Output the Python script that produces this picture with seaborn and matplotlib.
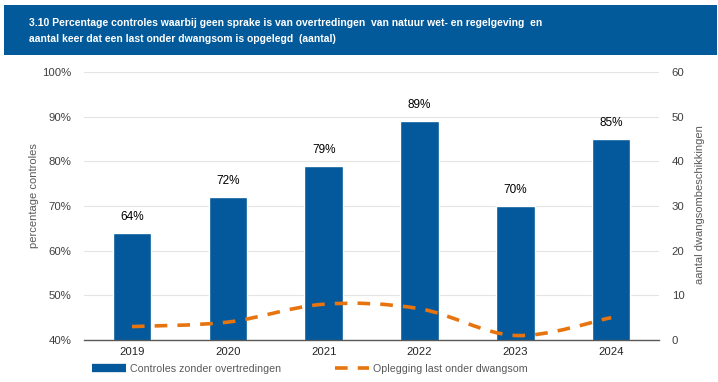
import matplotlib
matplotlib.use("Agg")
import matplotlib.pyplot as plt
import numpy as np
import pandas as pd
import seaborn as sns
from matplotlib.lines import Line2D
from matplotlib.patches import PathPatch, Rectangle
from matplotlib.path import Path

years = ["2019", "2020", "2021", "2022", "2023", "2024"]
pct_controles = [64, 72, 79, 89, 70, 85]
dwangsom = [3, 4, 8, 7, 1, 5]

BLUE = "#03599b"
ORANGE = "#e8740f"
GREY = "#595959"

sns.set_theme(style="white")
plt.rcParams["font.family"] = ["Liberation Sans", "DejaVu Sans"]

fig = plt.figure(figsize=(7.18, 3.82), dpi=100)
ax = fig.add_axes([0.117, 0.110, 0.801, 0.702])

df = pd.DataFrame({"jaar": years, "pct": pct_controles})
sns.barplot(data=df, x="jaar", y="pct", color=BLUE, width=0.4, saturation=1, ax=ax)
ax.set_ylim(40, 100)
ax.set_xlim(-0.5, len(years) - 0.5)
ax.set_yticks(range(40, 101, 10))
ax.set_yticklabels([f"{v}%" for v in range(40, 101, 10)])
ax.yaxis.grid(True, color="#e4e4e4", linewidth=0.8)
ax.set_axisbelow(True)
for s in ["top", "right", "left"]:
    ax.spines[s].set_visible(False)
ax.spines["bottom"].set_color(GREY)
ax.spines["bottom"].set_linewidth(1.0)
ax.tick_params(axis="both", length=0, labelsize=8.2, colors="#404040", pad=9)
ax.tick_params(axis="x", pad=5, colors="#262626")
ax.set_xlabel("")
ax.set_ylabel("percentage controles", fontsize=8, color=GREY)
ax.yaxis.set_label_coords(-0.078, 0.54)

for i, v in enumerate(pct_controles):
    ax.text(i, v + 2.2, f"{v}%", ha="center", va="bottom", fontsize=8.5, color="black")

# secondary axis with smoothed dashed line
ax2 = ax.twinx()
ax2.set_ylim(0, 60)
ax2.set_yticks(range(0, 61, 10))
for s in ["top", "right", "left", "bottom"]:
    ax2.spines[s].set_visible(False)
ax2.tick_params(axis="y", length=0, labelsize=8.2, colors="#404040", pad=9)
ax2.set_ylabel("aantal dwangsombeschikkingen", fontsize=8, color=GREY, rotation=90)
ax2.yaxis.set_label_coords(1.062, 0.505)

xs = np.arange(len(years), dtype=float)
ys = np.array(dwangsom, dtype=float)
verts = [(xs[0], ys[0])]
codes = [Path.MOVETO]
n = len(xs)
for i in range(n - 1):
    p0 = np.array([xs[max(i - 1, 0)], ys[max(i - 1, 0)]])
    p1 = np.array([xs[i], ys[i]])
    p2 = np.array([xs[i + 1], ys[i + 1]])
    p3 = np.array([xs[min(i + 2, n - 1)], ys[min(i + 2, n - 1)]])
    c1 = p1 + (p2 - p0) / 6
    c2 = p2 - (p3 - p1) / 6
    verts += [tuple(c1), tuple(c2), tuple(p2)]
    codes += [Path.CURVE4] * 3
curve = PathPatch(Path(verts, codes), facecolor="none", edgecolor=ORANGE,
                  linewidth=2.6, linestyle=(0, (3.5, 2.8)), capstyle="butt")
ax2.add_patch(curve)

# title banner
fig.patches.append(Rectangle((0.006, 0.856), 0.992, 0.132, transform=fig.transFigure,
                             facecolor="#035a9a", edgecolor="none", zorder=0))
fig.text(0.040, 0.952,
         "3.10 Percentage controles waarbij geen sprake is van overtredingen  van natuur wet- en regelgeving  en\n"
         "aantal keer dat een last onder dwangsom is opgelegd  (aantal)",
         ha="left", va="top", fontsize=7.5, fontweight="bold", color="white", linespacing=1.75)

handles = [Line2D([], [], color=BLUE, linewidth=6, solid_capstyle="butt"),
           Line2D([], [], color=ORANGE, linewidth=2.6, linestyle=(0, (3.5, 2.8)))]
fig.legend(handles, ["Controles zonder overtredingen", "Oplegging last onder dwangsom"],
           loc="center left", bbox_to_anchor=(0.115, 0.034), ncol=2, frameon=False,
           fontsize=7.7, handlelength=3.2, handletextpad=0.35, columnspacing=5.0,
           labelcolor=GREY)

fig.savefig("out.png", dpi=100)
